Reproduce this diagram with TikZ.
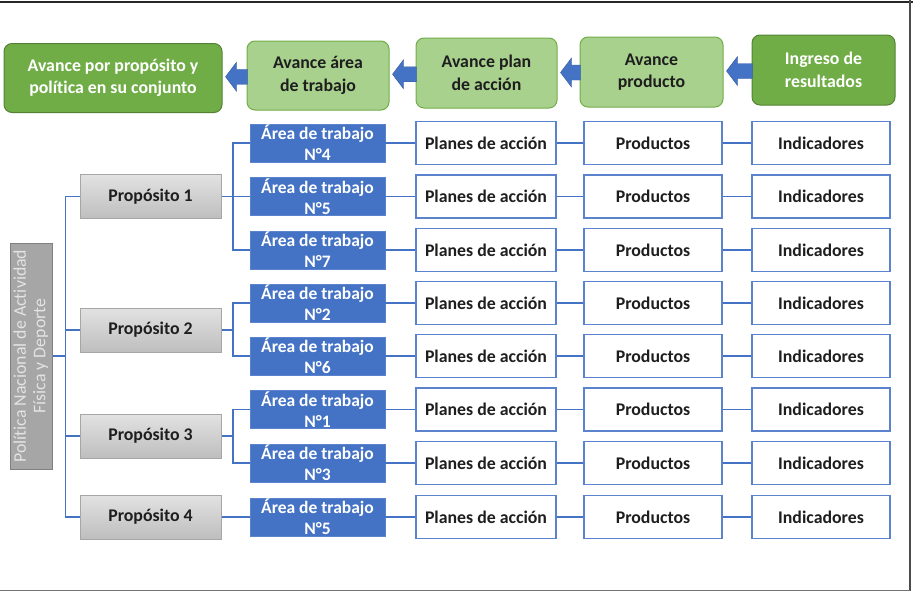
\documentclass[tikz,border=0pt]{standalone}
\usepackage{fontspec}
\setmainfont{Carlito}[Ligatures=NoCommon]
\usetikzlibrary{calc}
\definecolor{dgreen}{HTML}{70AD47}
\definecolor{dgreenline}{HTML}{548235}
\definecolor{lgreen}{HTML}{A9D18E}
\definecolor{lgreenline}{HTML}{70AD47}
\definecolor{ablue}{HTML}{4472C4}
\definecolor{lblue}{HTML}{5B82CC}
\definecolor{gbox}{HTML}{A6A6A6}
\definecolor{gboxline}{HTML}{808080}
\definecolor{gtext}{HTML}{E3E3E3}
\definecolor{ptop}{HTML}{E2E2E2}
\definecolor{pbot}{HTML}{BEBEBE}
\definecolor{darktext}{HTML}{1E1E1E}
\tikzset{
  hdark/.style={draw=dgreenline, line width=1pt, fill=dgreen, rounded corners=8pt,
    text=white, font=\bfseries\fontsize{17.8}{22.5}\selectfont, align=center, inner sep=0pt},
  hlight/.style={draw=lgreenline, line width=1pt, fill=lgreen, rounded corners=8pt,
    text=darktext, font=\bfseries\fontsize{17.8}{22.5}\selectfont, align=center, inner sep=0pt},
  areabox/.style={fill=ablue, draw=lblue, line width=0.6pt, minimum width=135pt, minimum height=38pt,
    text=white, font=\bfseries\fontsize{17.5}{21}\selectfont, align=center, inner sep=0pt},
  wbox/.style={draw=lblue, line width=1.3pt, fill=white, minimum height=43pt,
    text=darktext, font=\bfseries\fontsize{17.8}{21}\selectfont, inner sep=0pt},
  propbox/.style={draw=gbox, line width=1pt, top color=ptop, bottom color=pbot,
    minimum width=141pt, minimum height=44pt, text=darktext,
    font=\bfseries\fontsize{17.8}{21}\selectfont, inner sep=0pt},
  conn/.style={draw=ablue, line width=1.3pt},
  arrowblue/.style={fill=ablue, draw=ablue!80!black, line width=0.4pt},
}
\begin{document}
\begin{tikzpicture}[x=1pt,y=-1pt]
\useasboundingbox (0,0) rectangle (913,592);
% frame
\draw[line width=2pt, black!85] (0,1.5) -- (913,1.5);
\draw[line width=1.5pt, black!70] (910,0) -- (910,591);
\draw[line width=1.5pt, black!55] (0,590.5) -- (910,590.5);

% header
\node[hdark, minimum width=218pt, minimum height=69pt] (hA) at (113,78) {Avance por propósito y\\política en su conjunto};
\node[hlight, minimum width=142pt, minimum height=69pt] (hB) at (318,75.5) {Avance área\\de trabajo};
\node[hlight, minimum width=141pt, minimum height=70pt] (hC) at (486.5,73) {Avance plan\\de acción};
\node[hlight, minimum width=143pt, minimum height=70pt] (hD) at (651.5,72) {Avance\\producto};
\node[hdark, minimum width=143pt, minimum height=70pt] (hE) at (823.5,70) {Ingreso de\\resultados};

\foreach \a/\b in {hA/hB, hB/hC, hC/hD, hD/hE}{
  \path[arrowblue] let \p1=($(\a.east)!0.5!(\b.west)$), \p2=(\a.east), \p3=(\b.west) in
    (\x2+3pt,\y1) -- (\x2+14pt,\y1+14.5pt) -- (\x2+14pt,\y1+7.5pt) -- (\x3+1pt,\y1+7.5pt)
    -- (\x3+1pt,\y1-7.5pt) -- (\x2+14pt,\y1-7.5pt) -- (\x2+14pt,\y1-14.5pt) -- cycle;
}

% rows
\foreach \i/\y/\n in {1/143/4, 2/196.5/5, 3/250/7, 4/303/2, 5/356/6, 6/409.5/1, 7/463/3, 8/517/5}{
  \node[areabox] (A\i) at (317.5,\y) {Área de trabajo\\N°\n};
  \node[wbox, minimum width=140pt] (PL\i) at (486,\y) {Planes de acción};
  \node[wbox, minimum width=138pt] (PR\i) at (653,\y) {Productos};
  \node[wbox, minimum width=138pt] (IN\i) at (821,\y) {Indicadores};
  \draw[conn] (A\i.east) -- (PL\i.west);
  \draw[conn] (PL\i.east) -- (PR\i.west);
  \draw[conn] (PR\i.east) -- (IN\i.west);
}

% purposes
\node[propbox] (P1) at (150.5,196.5) {Propósito 1};
\node[propbox] (P2) at (150.5,330) {Propósito 2};
\node[propbox] (P3) at (150.5,436) {Propósito 3};
\node[propbox] (P4) at (150.5,517) {Propósito 4};

% policy
\node[draw=gboxline, line width=1pt, fill=gbox, minimum width=42pt, minimum height=226pt,
  inner sep=0pt] (L) at (31,356) {};
\node[rotate=90, text=gtext, font=\fontsize{17.8}{19.5}\selectfont, align=center, inner sep=0pt]
  (Lt) at (L.center) {Política Nacional de Actividad\\Física y Deporte};

% connectors purpose -> areas
\coordinate (bx) at (233,0);
\draw[conn] (A1.west) -- (A1.west -| bx) -- (A3.west -| bx) -- (A3.west);
\draw[conn] (A2.west) -- (P1.east);
\draw[conn] (A4.west) -- (A4.west -| bx) -- (A5.west -| bx) -- (A5.west);
\draw[conn] (P2.east) -- (P2.east -| bx);
\draw[conn] (A6.west) -- (A6.west -| bx) -- (A7.west -| bx) -- (A7.west);
\draw[conn] (P3.east) -- (P3.east -| bx);
\draw[conn] (P4.east) -- (A8.west);

% connectors policy -> purposes
\coordinate (lx) at (65.5,0);
\draw[conn] (P1.west) -- (P1.west -| lx) -- (P4.west -| lx) -- (P4.west);
\draw[conn] (P2.west) -- (P2.west -| lx);
\draw[conn] (P3.west) -- (P3.west -| lx);
\draw[conn] (L.east) -- (L.east -| lx);
\end{tikzpicture}
\end{document}
